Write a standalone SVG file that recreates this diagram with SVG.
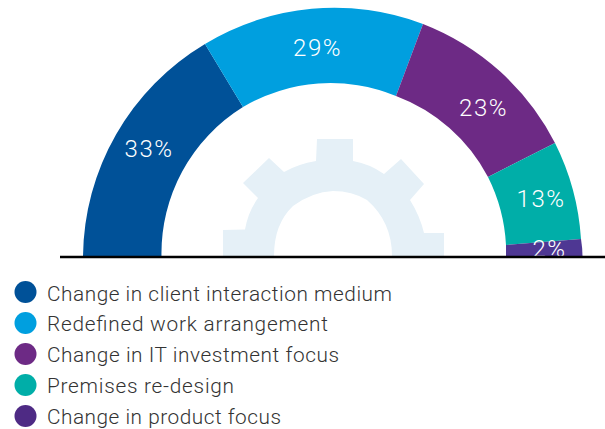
<svg xmlns="http://www.w3.org/2000/svg" width="605" height="429" viewBox="0 0 605 429">
<style>
.pct{font-family:Roboto,"Liberation Sans",sans-serif;font-weight:300;font-size:24px;letter-spacing:1.500px;fill:#fff;text-anchor:middle}
.leg{font-family:Roboto,"Liberation Sans",sans-serif;font-weight:300;font-size:20.800px;fill:#333}
</style>
<rect width="605" height="429" fill="#fff"/>
<g id="gear"><path fill="#e5f0f7" d="M223 256V230L245 229.500Q248 212 258 198L243 183L269 158L284 172Q298 164 316 161L317 139H353V161Q370 164 384 174L401 159L424 184L410 200Q420 216 424 233H444V256H392Q392 222 367 200Q352 191 333 191Q312 192 293 206Q274 224 274 256Z"/></g>
<g id="seg-33"><path fill="#005198" d="M83 257A250 250 0 0 1 205 44L243 107A172 172 0 0 0 161.500 257Z"/><text class="pct" x="149" y="157">33%</text></g>
<g id="seg-29"><path fill="#009fdf" d="M205 44A250 250 0 0 1 423 24L396 96A172 172 0 0 0 243 107Z"/><text class="pct" x="317.500" y="56">29%</text></g>
<g id="seg-23"><path fill="#6d2a85" d="M423 24A250 250 0 0 1 555 143L488 177A172 172 0 0 0 396 96Z"/><text class="pct" x="483.500" y="116">23%</text></g>
<g id="seg-13"><path fill="#00aea8" d="M555 143A250 250 0 0 1 581 239L506 245A172 172 0 0 0 488 177Z"/><text class="pct" x="541" y="207">13%</text></g>
<g id="seg-2"><path fill="#4e3793" d="M581 239Q582.500 248 582.500 257H506Q506 250 506 245Z"/><text class="pct" x="549.500" y="257">2%</text></g>
<g id="connectors"><line x1="60" y1="257" x2="605" y2="257" stroke="#000" stroke-width="2.500"/></g>
<g id="legend-1"><circle cx="25.500" cy="292" r="11" fill="#005198"/><text class="leg" x="47" y="300.500" textLength="345">Change in client interaction medium</text></g>
<g id="legend-2"><circle cx="25.500" cy="323" r="11" fill="#009fdf"/><text class="leg" x="47" y="331" textLength="281">Redefined work arrangement</text></g>
<g id="legend-3"><circle cx="25.500" cy="354" r="11" fill="#6d2a85"/><text class="leg" x="47" y="362" textLength="292">Change in IT investment focus</text></g>
<g id="legend-4"><circle cx="25.500" cy="385" r="11" fill="#00aea8"/><text class="leg" x="47" y="393" textLength="187">Premises re-design</text></g>
<g id="legend-5"><circle cx="25.500" cy="416" r="11" fill="#4e2a84"/><text class="leg" x="47" y="424" textLength="234">Change in product focus</text></g>
</svg>
